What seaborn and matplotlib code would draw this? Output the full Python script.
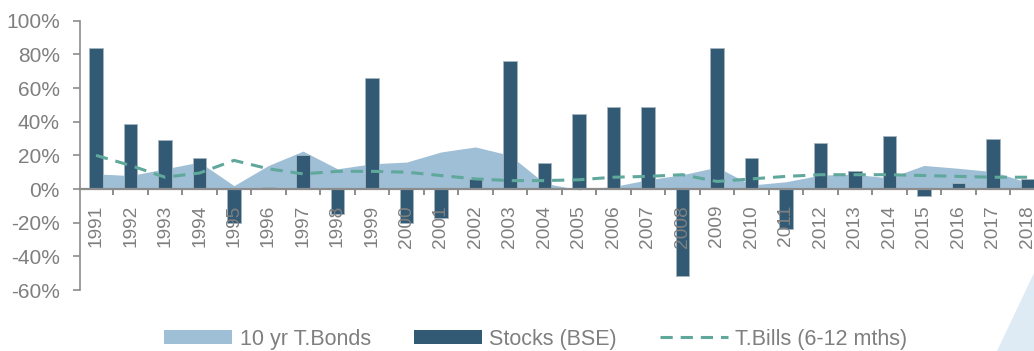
import numpy as np
import pandas as pd
import matplotlib
matplotlib.use("Agg")
import matplotlib.pyplot as plt
from matplotlib.patches import Patch, Polygon
from matplotlib.lines import Line2D
from matplotlib.ticker import FixedLocator, FuncFormatter
import seaborn as sns

years = [str(y) for y in range(1991, 2019)]
stocks = [84, 38.5, 29, 18.5, -20, 1, 20.5, -15, 66, -20, -17, 6, 76, 15.5,
          44.5, 49, 48.5, -51.5, 83.5, 18.5, -24, 27.5, 10.5, 31.5, -4, 3.5, 29.5, 6]
bonds = [9, 8, 12, 16, 2, 14, 22.5, 12, 15, 16, 22, 25, 20, 3.5,
         -0.5, 1.5, 5.5, 8.5, 13, 2.4, 4.3, 8.3, 8.7, 6.6, 14, 12.3, 10.3, 4]
bills = [20, 14, 7, 9.5, 17, 12, 9, 10.5, 10.5, 10, 8, 6, 5, 5,
         5.5, 7, 7.5, 8.5, 4.5, 6, 7.5, 8.5, 8.5, 8.5, 8, 7.5, 7, 7]
yticks = [-60, -40, -20, 0, 20, 40, 60, 80, 100]

df = pd.DataFrame({"year": years, "pos": np.arange(len(years)),
                   "stocks": stocks, "bonds": bonds, "bills": bills})

sns.set_style("white")
plt.rcParams["font.family"] = ["Liberation Sans", "DejaVu Sans"]

C_BAR = "#325a74"
C_AREA = "#9fbfd6"
C_LINE = "#5fa89b"
C_TXT = "#7f7f7f"
C_AX = "#8c8c8c"

fig = plt.figure(figsize=(10.34, 3.51), dpi=100)
ax = fig.add_axes([80 / 1034, 61 / 351, (1034 - 80) / 1034, 269.3 / 351])
ax.set_axisbelow(False)

ax.fill_between(df["pos"], df["bonds"], 0, color=C_AREA, lw=0, zorder=1)
sns.barplot(data=df, x="year", y="stocks", color=C_BAR, width=0.38,
            edgecolor="#a7b6c1", linewidth=0.6, saturation=1, ax=ax, zorder=2)
sns.lineplot(data=df, x="pos", y="bills", color=C_LINE, lw=2.2,
             linestyle=(0, (4, 2.6)), ax=ax, zorder=3)

ax.set_xlim(-0.464, 27.19)
ax.set_ylim(-60, 100)
ax.set_xlabel("")
ax.set_ylabel("")

for s in ["top", "right"]:
    ax.spines[s].set_visible(False)
ax.spines["bottom"].set_position(("data", 0))
ax.spines["bottom"].set_color(C_AX)
ax.spines["bottom"].set_linewidth(1.6)
ax.spines["left"].set_color(C_AX)
ax.spines["left"].set_linewidth(1.2)

ax.set_yticks(yticks)
ax.yaxis.set_major_formatter(FuncFormatter(lambda v, p: f"{int(v)}%"))
ax.tick_params(axis="y", which="major", direction="out", length=5, width=1.2,
               color=C_AX, labelcolor=C_TXT, labelsize=15, pad=9.5, left=True)

ax.set_xticks(np.arange(len(years)))
ax.set_xticklabels(years, rotation=90, va="top")
ax.tick_params(axis="x", which="major", length=0, labelcolor=C_TXT,
               labelsize=13.8, pad=11.5, bottom=True)
ax.xaxis.set_minor_locator(FixedLocator(np.arange(len(years)) + 0.5))
ax.tick_params(axis="x", which="minor", direction="out", length=4, width=1.4,
               color=C_AX, bottom=True)
ax.grid(False)

handles = [Patch(facecolor=C_AREA, edgecolor="none"),
           Patch(facecolor=C_BAR, edgecolor="none"),
           Line2D([0], [0], color=C_LINE, lw=2.2, linestyle=(0, (4, 2.6)))]
labels = ["10 yr T.Bonds", "Stocks (BSE)", "T.Bills (6-12 mths)"]
leg = fig.legend(handles, labels, loc="center", bbox_to_anchor=(536 / 1034, 1 - 339 / 351),
                 ncol=3, frameon=False, fontsize=15.5, handlelength=3.15,
                 handleheight=0.6, handletextpad=0.35, columnspacing=2.0,
                 labelcolor=C_TXT)

tri = Polygon([(997 / 1034, 0), (1.0, 0), (1.0, (351 - 273) / 351)],
              closed=True, transform=fig.transFigure, facecolor="#deebf5",
              edgecolor="none", zorder=0)
fig.patches.append(tri)

fig.savefig("out.png", dpi=100)
